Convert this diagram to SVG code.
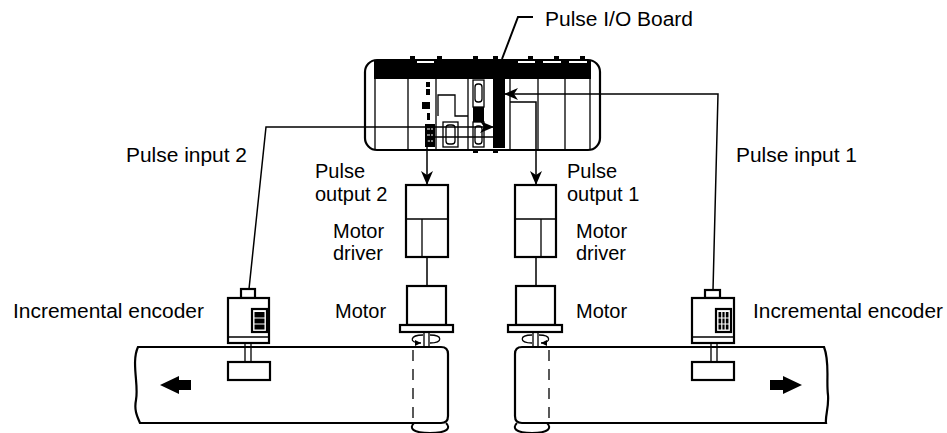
<svg xmlns="http://www.w3.org/2000/svg" width="947" height="433" viewBox="0 0 947 433">
<style>
text{font-family:"Liberation Sans",Arial,sans-serif;font-size:20px;fill:#000}
.o{fill:#fff;stroke:#000;stroke-width:2.2}
.t{fill:none;stroke:#000;stroke-width:1.3}
.k{fill:#000}
.c{fill:none;stroke:#000;stroke-width:1.5}
.d{fill:none;stroke:#000;stroke-width:1.3;stroke-dasharray:11 8}
</style>
<defs>
<marker id="ah" viewBox="0 0 14 12" refX="14" refY="6" markerWidth="14" markerHeight="12" markerUnits="userSpaceOnUse" orient="auto">
<path d="M0,0 L14,6 L0,12 L4,6 Z" fill="#000"/>
</marker>
<marker id="sm" viewBox="0 0 6 6" refX="6" refY="3" markerWidth="6" markerHeight="6" markerUnits="userSpaceOnUse" orient="auto">
<path d="M0,0 L6,3 L0,6 Z" fill="#000"/>
</marker>
</defs>
<rect width="947" height="433" fill="#fff"/>

<g id="plc">
<rect x="410" y="56" width="5" height="5" class="k"/>
<rect x="437" y="56" width="5" height="5" class="k"/>
<rect x="473" y="56" width="5" height="5" class="k"/>
<rect x="493" y="56" width="5" height="5" class="k"/>
<rect x="528" y="56" width="5" height="5" class="k"/>
<rect x="554" y="56" width="5" height="5" class="k"/>
<rect x="580" y="56" width="5" height="5" class="k"/>
<rect x="365" y="60" width="235" height="90" rx="12" class="o" stroke-width="1.8"/>
<rect x="374" y="60" width="217" height="19" class="k"/>
<rect x="417" y="61" width="17" height="2" fill="#fff"/>
<rect x="518" y="61" width="17" height="2" fill="#fff"/>
<rect x="543" y="61" width="18" height="2" fill="#fff"/>
<rect x="569" y="61" width="18" height="2" fill="#fff"/>
<path class="t" d="M375,79 V149 M408,79 V149 M436,79 V149 M468,79 V149 M510,79 V149 M538,79 V149 M565,79 V149 M590,79 V149"/>
<rect x="493" y="79" width="12" height="69" class="k"/>
<rect x="426" y="82" width="4" height="5" class="k"/>
<rect x="426" y="89" width="4" height="6" class="k"/>
<rect x="422" y="102" width="8" height="7" class="k"/>
<rect x="427" y="113" width="3" height="7" class="k"/>
<rect x="425" y="124" width="10" height="23" class="k"/>
<path stroke="#fff" stroke-width="1" d="M427,129 h3 M431,129 h2 M427,135 h3 M431,135 h2 M427,141 h3 M431,141 h2"/>
<path class="t" d="M438,116 V95 H455 V116 H468"/>
<rect x="443" y="122" width="15" height="25" class="t"/>
<rect x="446" y="125" width="9" height="19" rx="3" class="t"/>
<rect x="473" y="80" width="11" height="27" class="t"/>
<rect x="475" y="84" width="7" height="18" rx="3" class="t"/>
<rect x="473" y="107" width="11" height="15" class="k"/>
<rect x="473" y="122" width="11" height="25" class="t"/>
<rect x="475" y="126" width="7" height="18" rx="3" class="t"/>
<rect x="473" y="150" width="5" height="3" class="k"/>
<rect x="493" y="150" width="5" height="3" class="k"/>
</g>

<g id="connectors">
<path class="c" d="M249,289 L266,127 H494" marker-end="url(#ah)"/>
<path class="c" d="M713,290 L718,94 H504" marker-end="url(#ah)"/>
<path class="c" d="M494,137 H427 V185" marker-end="url(#ah)"/>
<path class="c" d="M510,102 H536 V185" marker-end="url(#ah)"/>
<path class="c" d="M427,257 V286 M536,257 V286"/>
<path fill="none" stroke="#000" stroke-width="2" d="M502,59 L518,17 H533"/>
</g>

<g id="driver2">
<rect x="406" y="185" width="42" height="72" class="o" stroke-width="2.5"/>
<path class="t" d="M406,219 H448 M422,219 V257"/>
</g>
<g id="driver1">
<rect x="515" y="185" width="41" height="72" class="o" stroke-width="2.5"/>
<path class="t" d="M515,219 H556 M541,219 V257"/>
</g>

<g id="conveyor2">
<path class="o" stroke-width="2" d="M138,347 H441 Q448,347 448,354 V416 Q448,423 441,423 H140 C137,416 134,410 136,400 C139,385 131,362 138,347 Z"/>
<path class="d" d="M413,350 V423"/>
<path fill="none" stroke="#000" stroke-width="2" d="M414,423 C409,428 412,433 430,433 C448,433 451,428 446,423"/>
<path class="k" d="M160,385 L179,376 V380 H191 V390 H179 V394 Z"/>
</g>
<g id="conveyor1">
<path class="o" stroke-width="2" d="M522,347 H824 C830,362 826,380 828,395 C829,408 825,416 826,423 H522 Q515,423 515,416 V354 Q515,347 522,347 Z"/>
<path class="d" d="M549,350 V423"/>
<path fill="none" stroke="#000" stroke-width="2" d="M517,423 C512,428 515,433 532,433 C549,433 552,428 547,423"/>
<path class="k" d="M802,385 L783,376 V380 H770 V390 H783 V394 Z"/>
</g>

<g id="motor2">
<rect x="407" y="286" width="39" height="39" class="o" stroke-width="2.2"/>
<rect x="400" y="325" width="53" height="7" class="o" stroke-width="2"/>
<path class="t" d="M424,332 V347 M429,332 V347"/>
<path class="t" d="M423,335 C410,335 408,343 421,343" marker-end="url(#sm)"/>
<path class="t" d="M430,335 C443,335 443,343 430,343"/>
</g>
<g id="motor1">
<rect x="516" y="286" width="39" height="39" class="o" stroke-width="2.2"/>
<rect x="508" y="325" width="54" height="7" class="o" stroke-width="2"/>
<path class="t" d="M533,332 V347 M538,332 V347"/>
<path class="t" d="M532,335 C519,335 519,343 532,343"/>
<path class="t" d="M539,335 C552,335 551,343 541,343" marker-end="url(#sm)"/>
</g>

<g id="encoder2">
<rect x="241" y="289" width="14" height="9" class="o" stroke-width="1.8"/>
<rect x="228" y="298" width="41" height="45" class="o" stroke-width="2"/>
<path class="t" d="M228,337 H269"/>
<rect x="252" y="309" width="15" height="23" class="o" stroke-width="1.5"/>
<rect x="254.5" y="312" width="10" height="17.5" class="k"/>
<path stroke="#fff" stroke-width="1.2" d="M254,318 H265 M254,324 H265"/>
<path class="t" d="M245,343 V362 M251,343 V362"/>
<rect x="228" y="362" width="42" height="18" class="o" stroke-width="2"/>
</g>
<g id="encoder1">
<rect x="705" y="290" width="15" height="8" class="o" stroke-width="1.8"/>
<rect x="692" y="298" width="42" height="45" class="o" stroke-width="2"/>
<path class="t" d="M692,337 H734"/>
<rect x="716" y="309" width="15" height="23" class="o" stroke-width="1.5"/>
<rect x="718.5" y="312" width="10" height="17.5" class="k"/>
<path stroke="#fff" stroke-width="1.2" d="M718,318 H729 M718,324 H729 M721.8,312 V330 M725.2,312 V330"/>
<path class="t" d="M711,343 V362 M717,343 V362"/>
<rect x="692" y="362" width="42" height="18" class="o" stroke-width="2"/>
</g>

<g id="labels">
<text x="545" y="26" textLength="148" lengthAdjust="spacingAndGlyphs">Pulse I/O Board</text>
<text x="126" y="162" textLength="121" lengthAdjust="spacingAndGlyphs">Pulse input 2</text>
<text x="736" y="162" textLength="121" lengthAdjust="spacingAndGlyphs">Pulse input 1</text>
<text x="315" y="178">Pulse</text>
<text x="315" y="201">output 2</text>
<text x="567" y="178">Pulse</text>
<text x="567" y="201">output 1</text>
<text x="333" y="238">Motor</text>
<text x="333" y="260">driver</text>
<text x="576" y="238">Motor</text>
<text x="576" y="260">driver</text>
<text x="13" y="318" textLength="191" lengthAdjust="spacingAndGlyphs">Incremental encoder</text>
<text x="335" y="318">Motor</text>
<text x="576" y="318">Motor</text>
<text x="753" y="318" textLength="190" lengthAdjust="spacingAndGlyphs">Incremental encoder</text>
</g>
</svg>
